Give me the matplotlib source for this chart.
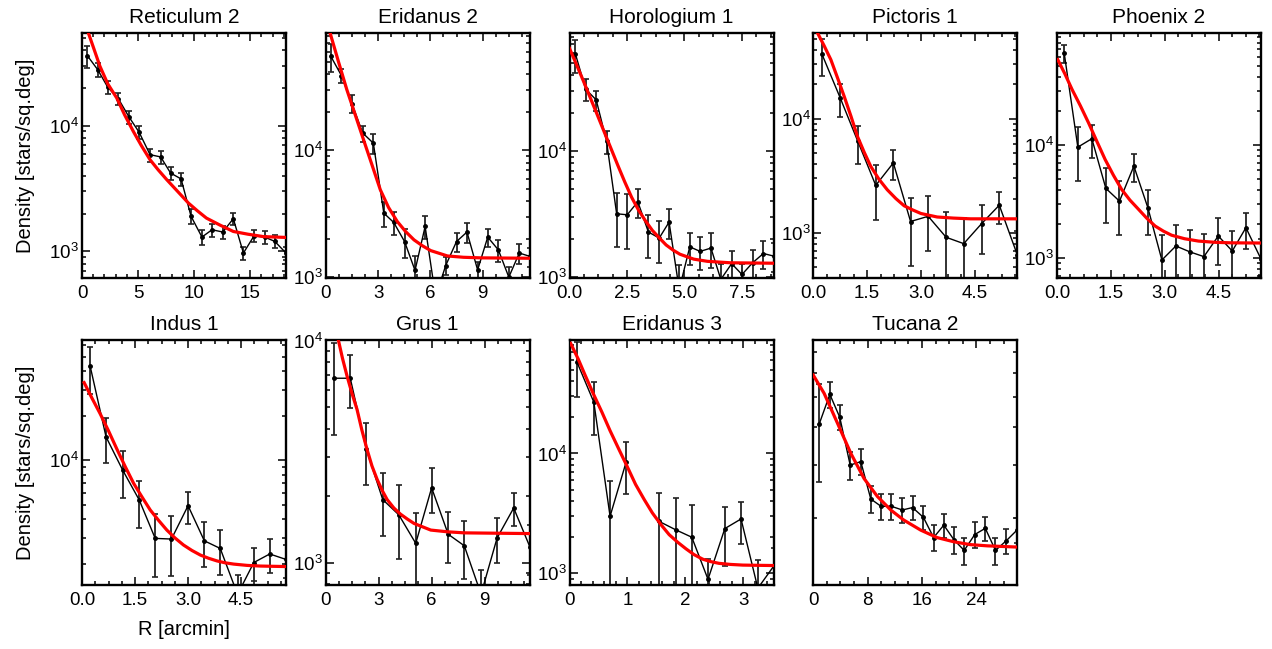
import numpy as np
import matplotlib
matplotlib.use('Agg')
import matplotlib.pyplot as plt
from matplotlib.ticker import MultipleLocator, AutoMinorLocator, NullFormatter, FormatStrFormatter, LogLocator

plt.rcParams['font.family'] = ['Liberation Sans', 'DejaVu Sans']

###############################################################
# data (R in arcmin, density in stars/sq.deg)

names = ['Reticulum 2', 'Eridanus 2', 'Horologium 1', 'Pictoris 1', 'Phoenix 2',
         'Indus 1', 'Grus 1', 'Eridanus 3', 'Tucana 2']

# Reticulum 2
ret2_r = [0.48, 1.40, 2.30, 3.24, 4.20, 5.10, 6.07, 7.02, 7.90, 8.84,
          9.73, 10.7, 11.6, 12.56, 13.5, 14.4, 15.36, 16.3, 17.2, 18.2]
ret2_d = [36000, 27900, 20200, 16400, 11700, 8850, 5880, 5640, 4200, 3770,
          1900, 1300, 1486, 1425, 1820, 970, 1333, 1300, 1200, 970]
ret2_e = [7000, 3600, 2300, 1800, 1300, 1000, 700, 650, 520, 450,
          260, 180, 180, 170, 200, 120, 150, 150, 140, 120]
ret2_fit_r = [0.57, 1.0, 1.6, 2.3, 3.1, 3.8, 4.58, 5.3, 6.07, 6.8, 7.56, 8.5,
              9.5, 10.3, 11.1, 12.3, 13.5, 14.8, 16.2, 18.3]
ret2_fit_d = [54600, 42400, 29700, 21500, 16600, 12200, 9000, 6930, 5360, 4450, 3720, 3020,
              2420, 2100, 1840, 1620, 1440, 1370, 1310, 1290]

# Eridanus 2
eri2_r = [0.29, 0.90, 1.50, 2.12, 2.73, 3.33, 3.90, 4.52, 5.12, 5.70,
          6.30, 6.88, 7.50, 8.10, 8.71, 9.29, 9.90, 10.5, 11.1, 11.7]
eri2_d = [55200, 38900, 23400, 13700, 11400, 3200, 2700, 1910, 1130, 2510,
          700, 1236, 1910, 2270, 1140, 2070, 1640, 1000, 1550, 1460]
eri2_e = [14000, 5000, 3800, 2000, 2000, 700, 550, 500, 330, 500,
          250, 200, 330, 400, 180, 330, 330, 200, 290, 250]
eri2_fit_r = [0.25, 0.73, 1.21, 1.69, 2.17, 2.65, 3.13, 3.6, 4.10, 4.58, 5.06,
              5.54, 6.02, 6.98, 7.9, 8.9, 11.7]
eri2_fit_d = [84300, 50000, 30100, 19100, 12100, 7700, 4890, 3550, 2750, 2290, 1970,
              1770, 1620, 1470, 1435, 1420, 1410]

# Horologium 1
hor1_r = [0.26, 0.70, 1.16, 1.61, 2.05, 2.51, 2.97, 3.43, 3.90, 4.33,
          4.77, 5.23, 5.68, 6.15, 6.58, 7.05, 7.50, 7.96, 8.43, 8.87]
hor1_d = [58500, 30900, 25400, 12000, 3180, 3120, 3960, 2280, 2040, 2730,
          800, 1740, 1600, 1700, 960, 1280, 1050, 1300, 1540, 1470]
hor1_e = [17000, 6000, 4500, 2500, 1450, 1450, 1000, 850, 750, 720,
          450, 500, 470, 520, 320, 330, 220, 350, 380, 380]
hor1_fit_r = [0.0, 0.3, 0.6, 0.9, 1.2, 1.5, 1.8, 2.1, 2.4, 2.7, 3.0, 3.3, 3.6,
              3.9, 4.2, 4.5, 4.8, 5.4, 6.0, 7.0, 8.87]
hor1_fit_d = [65000, 48500, 36000, 26500, 19500, 14300, 10500, 7700, 5700, 4300, 3400, 2800, 2350,
              2050, 1800, 1640, 1520, 1390, 1335, 1300, 1290]

# Pictoris 1
pic1_r = [0.24, 0.75, 1.24, 1.74, 2.23, 2.71, 3.20, 3.70, 4.19, 4.69, 5.18, 5.68]
pic1_d = [36800, 15200, 6340, 2610, 4100, 1260, 1400, 917, 807, 1210, 1750, 646]
pic1_e = [13000, 4800, 2300, 1300, 1200, 750, 700, 600, 550, 550, 550, 400]
pic1_fit_r = [0.12, 0.3, 0.49, 0.67, 0.86, 1.05, 1.23, 1.42, 1.6, 1.83, 2.06, 2.3,
              2.53, 2.77, 3.0, 3.45, 3.9, 4.38, 5.68]
pic1_fit_d = [56100, 43600, 32800, 23000, 15700, 10500, 7000, 5070, 3830, 2950, 2390, 2000,
              1730, 1590, 1480, 1380, 1350, 1330, 1330]

# Phoenix 2
phe2_r = [0.20, 0.58, 0.97, 1.36, 1.74, 2.14, 2.53, 2.92, 3.31, 3.70,
          4.09, 4.49, 4.88, 5.26, 5.68]
phe2_d = [65300, 9600, 11400, 4150, 3200, 6530, 2800, 966, 1285, 1140,
          1035, 1575, 1160, 1865, 985]
phe2_e = [12000, 4800, 3700, 2100, 1600, 1800, 1200, 650, 680, 650,
          620, 700, 600, 650, 500]
phe2_fit_r = [0.02, 0.22, 0.42, 0.65, 0.88, 1.11, 1.34, 1.57, 1.8, 2.03, 2.27, 2.5,
              2.73, 2.96, 3.19, 3.55, 3.94, 4.4, 4.86, 5.68]
phe2_fit_d = [57000, 42600, 31000, 22300, 15700, 10800, 7470, 5430, 4060, 3270, 2710, 2260,
              1930, 1740, 1600, 1490, 1420, 1385, 1370, 1365]

# Indus 1
ind1_r = [0.23, 0.68, 1.15, 1.62, 2.07, 2.53, 3.00, 3.46, 3.91, 4.40, 4.86, 5.31, 5.77]
ind1_d = [43200, 14400, 8600, 5400, 2980, 2950, 4950, 2870, 2550, 1250, 2050, 2340, 2150]
ind1_e = [15000, 4800, 3000, 1900, 1350, 1300, 1200, 950, 850, 450, 500, 600, 550]
ind1_fit_r = [0.06, 0.28, 0.51, 0.75, 0.98, 1.22, 1.46, 1.7, 1.93, 2.17, 2.4, 2.63,
              2.87, 3.11, 3.35, 3.58, 3.82, 4.05, 4.29, 4.67, 5.05, 5.77]
ind1_fit_d = [33400, 26300, 20700, 15800, 12000, 9100, 7000, 5650, 4630, 3930, 3390, 3000,
              2690, 2470, 2300, 2190, 2100, 2040, 2000, 1960, 1940, 1925]

# Grus 1
gru1_r = [0.48, 1.39, 2.30, 3.23, 4.14, 5.10, 6.00, 6.94, 7.85, 8.80, 9.71, 10.65, 11.56]
gru1_d = [6760, 6760, 3230, 1920, 1640, 1220, 2170, 1340, 1190, 720, 1290, 1760, 1180]
gru1_e = [3000, 1800, 1000, 600, 600, 450, 500, 350, 350, 210, 300, 300, 300]
gru1_fit_r = [0.72, 0.95, 1.2, 1.48, 1.77, 2.05, 2.34, 2.62, 2.91, 3.2, 3.48, 3.86,
              4.24, 4.62, 5.0, 5.95, 6.9, 7.85, 11.56]
gru1_fit_d = [10000, 8300, 6950, 5800, 4900, 3940, 3230, 2720, 2370, 2110, 1920, 1760,
              1650, 1570, 1500, 1400, 1375, 1360, 1350]

# Eridanus 3 (one empty bin near 1.26')
eri3_r = [0.13, 0.42, 0.70, 0.98, 1.26, 1.54, 1.83, 2.11, 2.39, 2.68, 2.96, 3.25, 3.52]
eri3_d = [57800, 26800, 2990, 8570, np.nan, 2720, 2310, 2000, 890, 2360, 2840, 750, 1140]
eri3_e = [27900, 12500, 2900, 4000, np.nan, 2000, 1900, 1700, 430, 1200, 1100, 540, 500]
eri3_fit_r = [0.02, 0.15, 0.27, 0.41, 0.56, 0.7, 0.85, 1.0, 1.14, 1.29, 1.43, 1.58,
              1.72, 1.87, 2.01, 2.15, 2.3, 2.44, 2.58, 2.78, 2.99, 3.52]
eri3_fit_d = [83000, 61500, 45000, 31600, 22100, 15500, 10900, 7700, 5520, 4120, 3190, 2540,
              2100, 1810, 1600, 1430, 1310, 1250, 1210, 1185, 1170, 1160]

# Tucana 2
tuc2_r = [0.88, 2.44, 3.90, 5.43, 6.99, 8.46, 9.97, 11.5, 13.1, 14.6,
          16.2, 17.7, 19.2, 20.7, 22.2, 23.75, 25.3, 26.8, 28.4, 29.96]
tuc2_d = [4080, 5100, 4290, 2990, 3070, 2315, 2190, 2190, 2130, 2170,
          2015, 1730, 1900, 1700, 1570, 1770, 1855, 1570, 1690, 1830]
tuc2_e = [1450, 500, 400, 320, 300, 240, 220, 220, 200, 200,
          180, 170, 170, 170, 160, 170, 170, 160, 160, 170]
tuc2_fit_r = [0.0, 1.6, 3.57, 5.52, 7.48, 9.43, 11.4, 13.3, 15.8, 18.2, 20.7, 23.1, 25.6, 30.0]
tuc2_fit_d = [5900, 5140, 4100, 3270, 2700, 2360, 2130, 1975, 1830, 1730, 1675, 1640, 1625, 1610]

# axis ranges and ticks per panel
xlims = [18.2, 11.7, 8.87, 5.68, 5.68, 5.77, 11.56, 3.52, 30.0]
ylims = [(614, 54600), (985, 84300), (985, 86000), (404, 56100), (670, 97900),
         (1446, 64700), (792, 10050), (798, 88600), (1209, 7690)]
xmajor = [5, 3, 2.5, 1.5, 1.5, 1.5, 3, 1, 8]
xminor = [5, 4, 4, 4, 4, 4, 4, 5, 4]
xfmt = ['%d', '%d', '%.1f', '%.1f', '%.1f', '%.1f', '%d', '%d', '%d']

profiles = [(ret2_r, ret2_d, ret2_e, ret2_fit_r, ret2_fit_d),
            (eri2_r, eri2_d, eri2_e, eri2_fit_r, eri2_fit_d),
            (hor1_r, hor1_d, hor1_e, hor1_fit_r, hor1_fit_d),
            (pic1_r, pic1_d, pic1_e, pic1_fit_r, pic1_fit_d),
            (phe2_r, phe2_d, phe2_e, phe2_fit_r, phe2_fit_d),
            (ind1_r, ind1_d, ind1_e, ind1_fit_r, ind1_fit_d),
            (gru1_r, gru1_d, gru1_e, gru1_fit_r, gru1_fit_d),
            (eri3_r, eri3_d, eri3_e, eri3_fit_r, eri3_fit_d),
            (tuc2_r, tuc2_d, tuc2_e, tuc2_fit_r, tuc2_fit_d)]

###############################################################
W, H = 1272, 649
fig = plt.figure(figsize=(W / 100, H / 100), dpi=100)

for i, name in enumerate(names):
    row, col = divmod(i, 5)
    left = (82 + 243.75 * col) / W
    top = 33 if row == 0 else 340
    ax = fig.add_axes([left, 1 - (top + 245) / H, 204 / W, 245 / H])

    r, d, e, fr, fd = profiles[i]
    r = np.array(r, dtype=float)
    d = np.array(d, dtype=float)
    e = np.array(e, dtype=float)
    lo = np.minimum(e, d * 0.999)

    ax.errorbar(r, d, yerr=[lo, e], fmt='-o', color='black', ms=2.5, lw=1.0,
                elinewidth=1.3, ecolor='#222222', capsize=2.5, capthick=1.2, zorder=2)
    ax.plot(fr, fd, color='red', lw=2.3, zorder=3, solid_joinstyle='round')

    ax.set_yscale('log')
    ax.set_xlim(0, xlims[i])
    ax.set_ylim(*ylims[i])
    ax.set_title(name, fontsize=15, pad=7)

    ax.xaxis.set_major_locator(MultipleLocator(xmajor[i]))
    ax.xaxis.set_minor_locator(AutoMinorLocator(xminor[i]))
    ax.xaxis.set_major_formatter(FormatStrFormatter(xfmt[i]))
    ax.yaxis.set_major_locator(LogLocator(base=10))
    ax.yaxis.set_minor_locator(LogLocator(base=10, subs=np.arange(2, 10)))
    ax.yaxis.set_minor_formatter(NullFormatter())

    ax.tick_params(which='both', direction='in', top=True, right=True, labelsize=13.5, width=1.1)
    ax.tick_params(which='major', length=6)
    ax.tick_params(which='minor', length=3)
    ax.tick_params(axis='y', pad=2)
    ax.tick_params(axis='x', pad=5)
    for s in ax.spines.values():
        s.set_linewidth(1.7)

    if col == 0:
        ax.set_ylabel('Density [stars/sq.deg]', fontsize=14.5, labelpad=10)
    if i == 5:
        ax.set_xlabel('R [arcmin]', fontsize=14.5, labelpad=8)

plt.savefig('out.png', dpi=100)
